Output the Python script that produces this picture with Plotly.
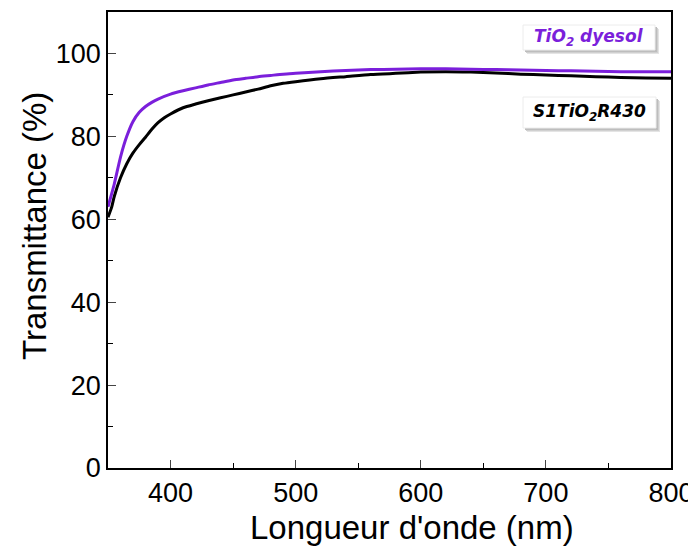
import plotly.graph_objects as go

# Data
wl_dyesol = [350, 355, 360, 365, 370, 375, 380, 385, 390, 400, 410, 420, 430, 440, 450,
             460, 470, 480, 490, 500, 520, 540, 560, 580, 600, 620, 640, 660, 680, 700,
             720, 740, 760, 780, 800]
t_dyesol = [63.0, 68.5, 75.0, 80.0, 83.6, 85.8, 87.2, 88.2, 89.0, 90.2, 91.0, 91.7, 92.4,
            93.0, 93.6, 94.0, 94.4, 94.7, 95.0, 95.2, 95.6, 95.9, 96.1, 96.2, 96.3, 96.3,
            96.2, 96.1, 96.0, 95.9, 95.8, 95.7, 95.6, 95.6, 95.6]

wl_s1 = [350, 353, 355, 360, 365, 370, 375, 380, 385, 390, 395, 400, 410, 420, 430, 440,
         450, 460, 470, 480, 490, 500, 520, 540, 560, 580, 600, 620, 640, 660, 680, 700,
         720, 740, 760, 780, 800]
t_s1 = [60.5, 63.0, 65.5, 70.0, 73.4, 76.0, 78.0, 79.8, 81.7, 83.3, 84.5, 85.4, 86.9, 87.8,
        88.6, 89.3, 90.0, 90.7, 91.4, 92.2, 92.8, 93.2, 93.9, 94.4, 94.9, 95.2, 95.5, 95.6,
        95.5, 95.3, 95.0, 94.8, 94.6, 94.4, 94.2, 94.1, 94.0]

x_ticks = [400, 500, 600, 700, 800]
y_ticks = [0, 20, 40, 60, 80, 100]

label_dyesol = "TiO<sub>2</sub> dyesol"
label_s1 = "S1TiO<sub>2</sub>R430"
x_title = "Longueur d'onde (nm)"
y_title = "Transmittance (%)"

PURPLE = "#7B1FDB"

fig = go.Figure()
fig.add_trace(go.Scatter(x=wl_s1, y=t_s1, mode="lines",
                         line=dict(color="black", width=3, shape="spline", smoothing=0.6),
                         showlegend=False))
fig.add_trace(go.Scatter(x=wl_dyesol, y=t_dyesol, mode="lines",
                         line=dict(color=PURPLE, width=3, shape="spline", smoothing=0.6),
                         showlegend=False))

tickfont = dict(family="Liberation Sans", size=27, color="black")
fig.update_xaxes(range=[350, 800], tickvals=x_ticks, ticks="inside", ticklen=8, tickwidth=1,
                 showline=True, mirror=True, linecolor="black", linewidth=1.5, showgrid=False,
                 zeroline=False, tickfont=tickfont, automargin=False,
                 minor=dict(ticks="inside", ticklen=5, dtick=50, tick0=350, tickcolor="black"))
fig.update_yaxes(range=[0, 110], tickvals=y_ticks, ticks="inside", ticklen=8, tickwidth=1,
                 showline=True, mirror=True, linecolor="black", linewidth=1.5, showgrid=False,
                 zeroline=False, tickfont=tickfont, automargin=False,
                 minor=dict(ticks="inside", ticklen=5, dtick=10, tickcolor="black"))

# page has an 8px body margin, so the figure is shrunk and shifted accordingly
OFF = 8
W, H = 696 - OFF, 549 - OFF
L, T = 108 - OFF, 12 - OFF
pw, ph = 563, 456
R, B = W - L - pw, H - T - ph

def px2paper(x, y):
    # x, y in page pixels
    x -= OFF
    y -= OFF
    return (x - L) / pw, (T + ph - y) / ph

shapes = []
def box(x0, y0, x1, y1):
    for off, col in ((4, "#e4e4e4"), (3, "#d0d0d0"), (2, "#bdbdbd")):
        a = px2paper(x0 + off, y1 + off)
        b = px2paper(x1 + off, y0 + off)
        shapes.append(dict(type="rect", xref="paper", yref="paper", x0=a[0], y0=a[1], x1=b[0], y1=b[1],
                           fillcolor=col, line=dict(width=0), layer="above"))
    a = px2paper(x0, y1)
    b = px2paper(x1, y0)
    shapes.append(dict(type="rect", xref="paper", yref="paper", x0=a[0], y0=a[1], x1=b[0], y1=b[1],
                       fillcolor="white", line=dict(width=1, color="#ececec"), layer="above"))
    return px2paper((x0 + x1) / 2, (y0 + y1) / 2)

c1 = box(523, 25, 655, 50)
c2 = box(523, 97, 656, 128)
xt = px2paper(412, 527)
yt = px2paper(34, 226)

fig.update_layout(
    width=W, height=H,
    margin=dict(l=L, r=R, t=T, b=B, autoexpand=False),
    plot_bgcolor="white", paper_bgcolor="white",
    shapes=shapes,
    annotations=[
        dict(xref="paper", yref="paper", x=c1[0], y=c1[1], xanchor="center", yanchor="middle",
             text="<b><i>" + label_dyesol + "</i></b>",
             showarrow=False, font=dict(family="DejaVu Sans", size=17, color=PURPLE)),
        dict(xref="paper", yref="paper", x=c2[0], y=c2[1], xanchor="center", yanchor="middle",
             text="<b><i>" + label_s1 + "</i></b>",
             showarrow=False, font=dict(family="DejaVu Sans", size=17, color="black")),
        dict(xref="paper", yref="paper", x=xt[0], y=xt[1], xanchor="center", yanchor="middle",
             text=x_title, showarrow=False,
             font=dict(family="Liberation Sans", size=33, color="black")),
        dict(xref="paper", yref="paper", x=yt[0], y=yt[1], xanchor="center", yanchor="middle",
             text=y_title, textangle=-90, showarrow=False,
             font=dict(family="Liberation Sans", size=33, color="black")),
    ],
)

fig.write_html("out.html")
